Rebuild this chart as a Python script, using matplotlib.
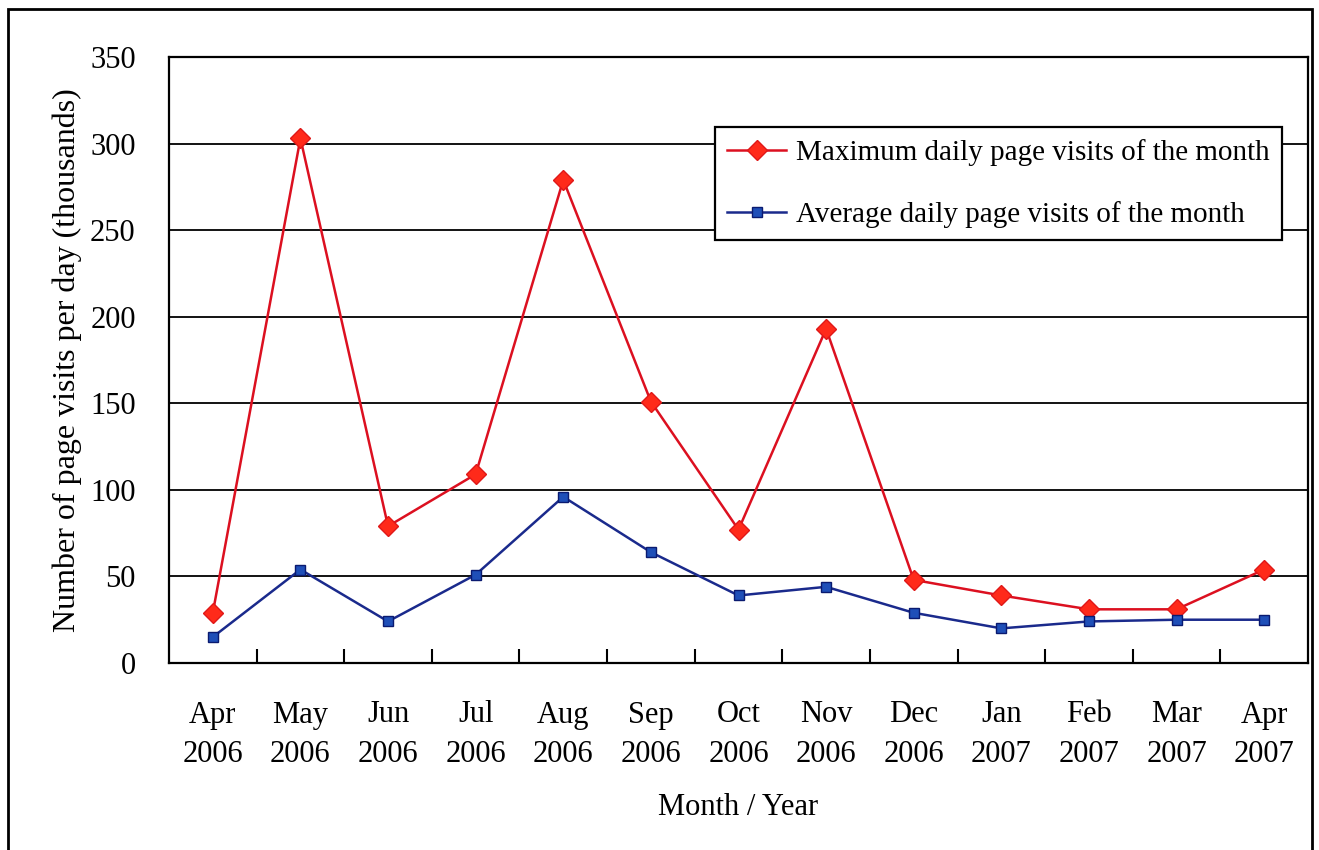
import matplotlib.pyplot as plt
from matplotlib.patches import Rectangle

plt.rcParams['font.family'] = ['Liberation Serif', 'DejaVu Serif']

months = ['Apr\n2006', 'May\n2006', 'Jun\n2006', 'Jul\n2006', 'Aug\n2006',
          'Sep\n2006', 'Oct\n2006', 'Nov\n2006', 'Dec\n2006', 'Jan\n2007',
          'Feb\n2007', 'Mar\n2007', 'Apr\n2007']
max_visits = [29, 303, 79, 109, 279, 151, 77, 193, 48, 39, 31, 31, 54]
avg_visits = [15, 54, 24, 51, 96, 64, 39, 44, 29, 20, 24, 25, 25]

fig = plt.figure(figsize=(13.19, 8.5), dpi=100)
ax = fig.add_axes([169 / 1319, 1 - 663 / 850, (1308 - 169) / 1319, (663 - 57) / 850])

# outer frame around the whole chart
fig.patches.append(Rectangle((8 / 1319, -0.01), (1312 - 8) / 1319, 1 - 9 / 850 + 0.01,
                             transform=fig.transFigure, fill=False,
                             edgecolor='black', linewidth=2))

x = list(range(len(months)))
ax.plot(x, max_visits, color='#dc1020', linewidth=1.8, marker='D', markersize=10,
        markerfacecolor='#ff2a1a', markeredgecolor='#e01818',
        label='Maximum daily page visits of the month', zorder=3)
ax.plot(x, avg_visits, color='#1a2a8c', linewidth=1.8, marker='s', markersize=7,
        markerfacecolor='#1f4fb8', markeredgecolor='#0a1a70',
        label='Average daily page visits of the month', zorder=3)

ax.set_xlim(-0.5, len(months) - 0.5)
ax.set_ylim(0, 350)
ax.set_yticks(range(0, 351, 50))
ax.yaxis.grid(True, color='black', linewidth=1.3)
ax.set_axisbelow(True)

ax.set_xticks(x)
ax.set_xticklabels(months, fontsize=22, linespacing=1.48)
ax.set_xticks([i + 0.5 for i in x[:-1]], minor=True)
ax.tick_params(axis='x', which='major', length=0, pad=27)
ax.tick_params(axis='x', which='minor', direction='in', length=10, width=1.5)
ax.tick_params(axis='y', length=0, labelsize=22, pad=24)

for s in ax.spines.values():
    s.set_linewidth(1.6)

ax.set_xlabel('Month / Year', fontsize=22, labelpad=17)
ax.set_ylabel('Number of page visits per day (thousands)', fontsize=23, labelpad=6)

leg = ax.legend(loc='upper right', bbox_to_anchor=(0.977, 0.885), fontsize=21,
                fancybox=False, framealpha=1, edgecolor='black',
                handlelength=2.0, handletextpad=0.35, borderpad=0.42,
                labelspacing=1.2, borderaxespad=0)
leg.get_frame().set_linewidth(1.6)

fig.savefig('out.png', dpi=100)
